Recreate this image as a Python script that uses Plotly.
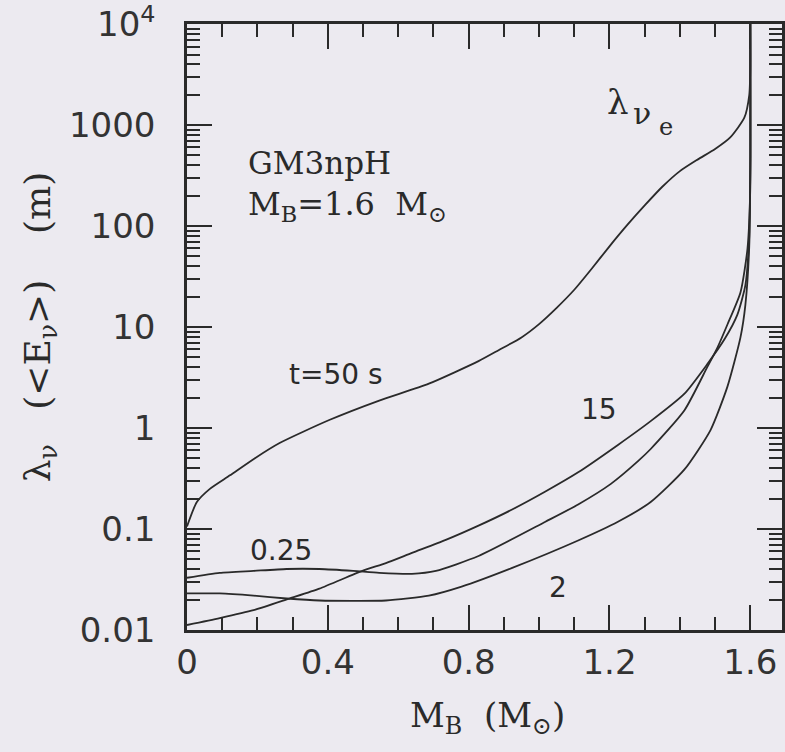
import plotly.graph_objects as go

# ---- data ----
x_t50 = [0.000, 0.028, 0.065, 0.122, 0.192, 0.263, 0.404, 0.546, 0.687, 0.828, 0.885, 0.950,
         1.000, 1.050, 1.100, 1.150, 1.200, 1.250, 1.300, 1.350, 1.400, 1.450, 1.500, 1.543,
         1.583, 1.597, 1.600, 1.600]
y_t50 = [0.106, 0.185, 0.25, 0.34, 0.50, 0.71, 1.2, 1.87, 2.75, 4.6, 5.9, 7.9,
         10.7, 15.5, 23.4, 38, 63, 102, 160, 245, 350, 455, 580, 755,
         1183, 1985, 3640, 10000]

x_t15 = [0.000, 0.093, 0.189, 0.291, 0.376, 0.498, 0.565, 0.639, 0.735, 0.828, 0.922, 1.018,
         1.111, 1.224, 1.317, 1.413, 1.478, 1.527, 1.563, 1.586, 1.597, 1.600, 1.600]
y_t15 = [0.0112, 0.0131, 0.0157, 0.0205, 0.0257, 0.0385, 0.046, 0.058, 0.078, 0.108, 0.155, 0.235,
         0.364, 0.68, 1.17, 2.19, 4.3, 7.6, 13.2, 26, 80, 482, 10000]

x_t025 = [0.000, 0.093, 0.189, 0.283, 0.376, 0.472, 0.546, 0.639, 0.707, 0.828, 1.018, 1.111,
          1.204, 1.281, 1.317, 1.413, 1.478, 1.507, 1.535, 1.572, 1.592, 1.600, 1.600]
y_t025 = [0.0329, 0.0368, 0.0385, 0.0402, 0.0402, 0.0385, 0.0368, 0.036, 0.0385, 0.054, 0.118, 0.175,
          0.28, 0.47, 0.62, 1.5, 4.03, 6.3, 10.6, 22, 60, 245, 10000]

x_t2 = [0.000, 0.093, 0.189, 0.283, 0.376, 0.565, 0.687, 0.780, 0.922, 1.111, 1.224, 1.317,
        1.413, 1.487, 1.535, 1.572, 1.586, 1.597, 1.600, 1.600]
y_t2 = [0.023, 0.023, 0.0219, 0.0205, 0.0196, 0.0196, 0.0219, 0.0269, 0.041, 0.077, 0.118, 0.185,
        0.389, 0.955, 2.57, 7.9, 16.6, 64, 482, 10000]

y_tickvals = [0.01, 0.1, 1, 10, 100, 1000, 10000]
y_ticktext = ["0.01", "0.1", "1", "10", "100", "1000", "10<sup>4</sup>"]
x_tickvals = [0, 0.4, 0.8, 1.2, 1.6]
x_ticktext = ["0", "0.4", "0.8", "1.2", "1.6"]

BG = "#ECEAF0"
INK = "#2a2a2a"
SERIF = "DejaVu Serif"
SANS = "DejaVu Sans"

fig = go.Figure()
for xs, ys in [(x_t50, y_t50), (x_t15, y_t15), (x_t025, y_t025), (x_t2, y_t2)]:
    fig.add_trace(go.Scatter(x=xs, y=ys, mode="lines",
                             line=dict(color=INK, width=1.8, shape="spline", smoothing=0.6),
                             showlegend=False, hoverinfo="skip"))

minor_y = [m * 10 ** e for e in range(-2, 4) for m in range(2, 10)]

fig.update_xaxes(range=[0, 1.69], tickvals=x_tickvals, ticktext=x_ticktext,
                 ticks="inside", ticklen=25, tickwidth=2, tickcolor=INK,
                 minor=dict(ticks="inside", ticklen=13, tickwidth=1.6, tickcolor=INK, dtick=0.1, tick0=0),
                 showline=True, linewidth=2.5, linecolor=INK, mirror="allticks",
                 showgrid=False, zeroline=False,
                 tickfont=dict(family=SANS, size=34, color="#333"))
fig.update_yaxes(type="log", range=[-2, 4.001], tickvals=y_tickvals, ticktext=y_ticktext,
                 ticks="inside", ticklen=25, tickwidth=2, tickcolor=INK,
                 minor=dict(ticks="inside", ticklen=13, tickwidth=1.6, tickcolor=INK, tickvals=minor_y),
                 showline=True, linewidth=2.5, linecolor=INK, mirror="allticks",
                 showgrid=False, zeroline=False, ticklabelstandoff=22, ticklabeloverflow="allow",
                 tickfont=dict(family=SANS, size=34, color="#333"),
                 title=dict(text="λ<sub>ν</sub>   (<E<sub>ν</sub>>)    (m)", font=dict(family=SERIF, size=36, color=INK),
                            standoff=8))

# paper coords: plot area spans x 187..785 px, y 18..630 px
def P(px, py):
    return (px - 187) / (785 - 187), (630 - py) / (630 - 18)

def ann(text, px, py, size, family, xanchor="left"):
    ax_, ay_ = P(px, py)
    fig.add_annotation(text=text, x=ax_, y=ay_, xref="paper", yref="paper", showarrow=False,
                       xanchor=xanchor, yanchor="middle",
                       font=dict(family=family, size=size, color=INK))

ann("GM3npH", 246, 158, 31, SERIF)
ann("M<sub>B</sub>=1.6  M<sub>⊙</sub>", 246, 202, 32, SERIF)
ann("λ", 607, 97, 34, SERIF)
ann("ν", 633, 108, 30, SERIF)
ann("e", 659, 122, 24, SERIF)
ann("t=50 s", 288, 372, 28, SANS)
ann("15", 581, 407, 28, SANS)
ann("0.25", 248, 550, 28, SANS)
ann("2", 549, 587, 28, SANS)
ann("M<sub>B</sub>  (M<sub>⊙</sub>)", 489, 718, 34, SERIF, xanchor="center")

fig.update_layout(width=785, height=752, margin=dict(l=187, r=0, t=18, b=122),
                  paper_bgcolor=BG, plot_bgcolor=BG, showlegend=False)
fig.write_html("out.html")
